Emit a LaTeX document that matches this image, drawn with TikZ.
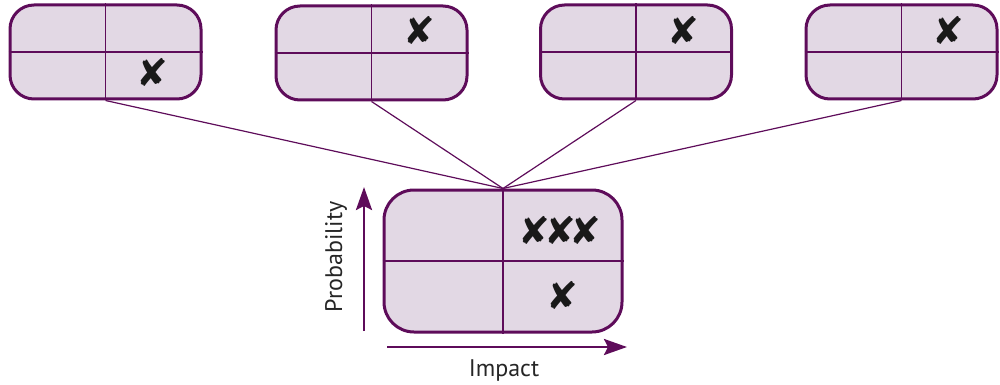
\documentclass[tikz,border=0pt]{standalone}
\usepackage{fontspec}
\setmainfont{PT Sans}
\newfontfamily\symfont{DejaVu Sans}
\usetikzlibrary{arrows.meta}
\definecolor{riskline}{RGB}{94,12,90}
\definecolor{riskfill}{RGB}{226,216,228}
\tikzset{
  riskbox/.style={
    draw=riskline,
    fill=riskfill,
    line width=3pt,
    rounded corners=24pt,
    minimum width=191pt,
    minimum height=94pt,
    inner sep=0pt
  },
  bigbox/.style={
    riskbox,
    rounded corners=30pt,
    minimum width=238pt,
    minimum height=142pt
  },
  divider/.style={
    draw=riskline,
    line width=1.4pt
  },
  link/.style={
    draw=riskline,
    line width=1.2pt
  },
  axis arrow/.style={
    -{Stealth[length=23pt, width=16pt, inset=4pt]},
    line width=2.8pt,
    color=riskline
  },
  crossmark/.style={
    font=\symfont\fontsize{38}{38}\selectfont,
    text=black!90,
    inner sep=0pt
  },
  axis label/.style={
    font=\fontsize{24}{24}\selectfont,
    text=black!85
  }
}

\begin{document}
\begin{tikzpicture}[x=1pt, y=-1pt]

  \useasboundingbox (0,0) rectangle (1000,385);

  %% ---- individual risk grids (top row) ----
  \node[riskbox] (grid1) at (105.5, 52) {};
  \node[riskbox] (grid2) at (371.5, 53) {};
  \node[riskbox] (grid3) at (636, 52) {};
  \node[riskbox] (grid4) at (901.5, 52) {};

  % quadrant lines
  \foreach \g in {grid1, grid2, grid3, grid4} {
    \draw[divider] (\g.north) -- (\g.south);
    \draw[divider] (\g.west) -- (\g.east);
  }

  % crosses
  \node[crossmark] (x1) at (152, 72) {✘};
  \node[crossmark] (x2) at (419, 30) {✘};
  \node[crossmark] (x3) at (683, 30) {✘};
  \node[crossmark] (x4) at (948, 30) {✘};

  %% ---- combined grid ----
  \node[bigbox] (overall) at (503, 261) {};
  \draw[divider] (overall.north) -- (overall.south);
  \draw[divider] (overall.west) -- (overall.east);
  \node[crossmark] (xhigh) at (560, 230) {✘\kern-6pt✘\kern-6pt✘};
  \node[crossmark] (xlow) at (562, 295) {✘};

  %% ---- links from each grid to the combined one ----
  \foreach \g in {grid1, grid2, grid3, grid4}
    \draw[link] (\g.south) -- (overall.north);

  %% ---- axes ----
  \coordinate (pbase) at (364, 331);
  \coordinate (ptip)  at (364, 187);
  \coordinate (ibase) at (387, 347);
  \coordinate (itip)  at (627, 347);
  \draw[axis arrow] (pbase) -- (ptip);
  \draw[axis arrow] (ibase) -- (itip);
  \node[axis label, rotate=90] (problabel) at (336, 257) {Probability};
  \node[axis label] (implabel) at (504, 370) {Impact};

\end{tikzpicture}
\end{document}
